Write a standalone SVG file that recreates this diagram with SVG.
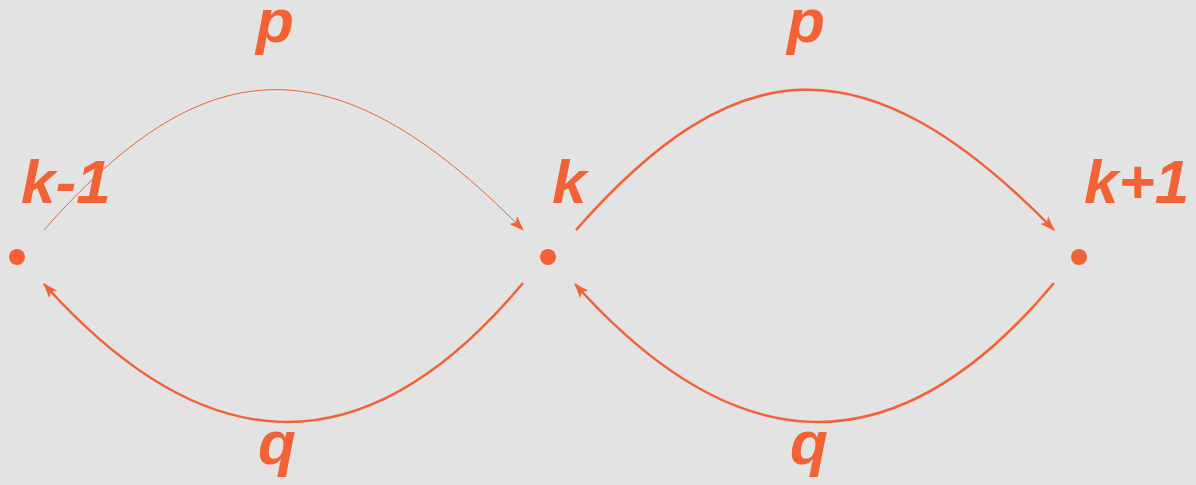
<svg xmlns="http://www.w3.org/2000/svg" width="1196" height="485" viewBox="0 0 1196 485">
<style>
.lbl{font-family:"Liberation Sans",Arial,sans-serif;font-weight:bold;font-style:italic;font-size:62px;fill:#F26237}
.arc{fill:none;stroke:#F26237;stroke-width:2.5}
.thin{stroke-width:1}
.dot{fill:#F26237}
</style>
<defs>
<marker id="ah" viewBox="0 0 15 11" refX="14" refY="5.5" markerWidth="15" markerHeight="11" markerUnits="userSpaceOnUse" orient="auto">
<path d="M0,0 L15,5.5 L0,11 L3.5,5.5 Z" fill="#F26237"/>
</marker>
</defs>
<rect width="1196" height="485" fill="#E3E3E3"/>
<g id="connectors">
<path class="arc thin" d="M44,230 C200,53 330,33 523,230" marker-end="url(#ah)"/>
<path class="arc" d="M523,283 C360,478 200,458 44,284" marker-end="url(#ah)"/>
<path class="arc" d="M576,230 C732,53 862,33 1054,230" marker-end="url(#ah)"/>
<path class="arc" d="M1054,283 C891,478 731,458 575,284" marker-end="url(#ah)"/>
</g>
<g id="node-km1"><circle class="dot" cx="17" cy="257" r="8"/><text class="lbl" x="21" y="203">k-1</text></g>
<g id="node-k"><circle class="dot" cx="548" cy="257" r="8"/><text class="lbl" x="552" y="203">k</text></g>
<g id="node-kp1"><circle class="dot" cx="1079" cy="257" r="8"/><text class="lbl" x="1084" y="203">k+1</text></g>
<g id="labels">
<text class="lbl" x="256" y="42">p</text>
<text class="lbl" x="787" y="42">p</text>
<text class="lbl" x="258" y="464">q</text>
<text class="lbl" x="790" y="464">q</text>
</g>
</svg>
